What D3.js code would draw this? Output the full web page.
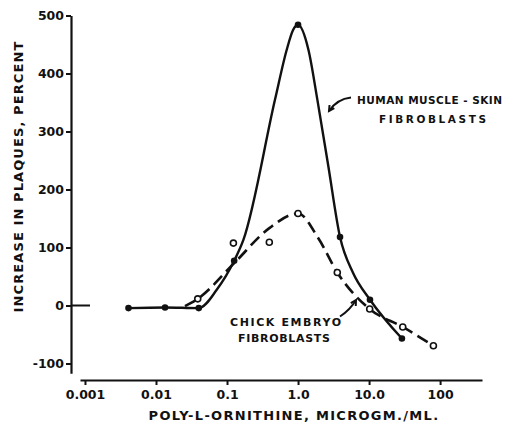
<!DOCTYPE html>
<html><head><meta charset="utf-8">
<script src="https://cdn.jsdelivr.net/npm/d3@7"></script>
<style>
html,body{margin:0;padding:0;background:#fff;}
text{font-family:"DejaVu Sans",sans-serif;font-weight:bold;fill:#111;}
</style></head>
<body><svg id="c" width="507" height="430"></svg>
<script>
// ---- data ----
const humanConc = [0.0041, 0.0134, 0.040, 0.126, 1.0, 3.9, 10.3, 29];
const humanPct  = [-4.5, -3.5, -4.5, 77, 484, 118, 10, -57];
// drawn solid curve
const humanCurveConc = [0.0041, 0.0134, 0.040, 0.0716, 0.126, 0.170, 0.474, 0.693, 0.851, 1.0, 1.40, 1.87, 2.67, 3.9, 5.96, 10.3, 29];
const humanCurvePct  = [-4.5, -3.5, -4.5, 27, 77, 113, 355, 441, 475, 484, 441, 355, 240, 118, 56, 10, -57];
const chickConc = [0.0387, 0.123, 0.394, 1.0, 3.57, 10.2, 29.8, 80.5];
const chickPct  = [11.5, 107.6, 109, 158.6, 57, -6, -37, -69.5];
// drawn dashed curve
const chickCurveConc = [0.0256, 0.0387, 0.126, 0.39, 1.0, 1.93, 3.57, 10.2, 29.8, 80.5];
const chickCurvePct  = [-1, 11.5, 73, 133, 158.6, 116, 57, -6, -37, -69.5];
const xTicks = [0.001, 0.01, 0.1, 1, 10, 100];
const xTickLabels = ["0.001", "0.01", "0.1", "1.0", "10.0", "100"];
const yTicks = [-100, 0, 100, 200, 300, 400, 500];
const yTickLabels = ["-100", "0", "100", "200", "300", "400", "500"];

const svg = d3.select("#c");
const x = d3.scaleLog().domain([Math.pow(10,-3.07), Math.pow(10,2.59)]).range([80, 482]);
const y = d3.scaleLinear().domain([-100, 500]).range([363.5, 15.5]);
const ink = "#111";

// x axis
const xAxisG = svg.append("g").attr("transform","translate(0,380)")
  .call(d3.axisBottom(x).tickValues(xTicks).tickFormat((d,i)=>xTickLabels[i]).tickSize(5).tickSizeOuter(0));
xAxisG.select(".domain").attr("stroke",ink).attr("stroke-width",2);
xAxisG.selectAll(".tick line").attr("stroke",ink).attr("stroke-width",2);
xAxisG.selectAll(".tick text").attr("dy","0.71em").attr("y",10).style("font-size","12.5px")
  .style("font-family","DejaVu Sans").style("font-weight","bold").attr("fill",ink);

// y axis
const yAx = y.copy().domain([-117, 500]).range([y(-117), y(500)]);
const yAxisG = svg.append("g").attr("transform","translate(71,0)")
  .call(d3.axisLeft(yAx).tickValues(yTicks).tickFormat((d,i)=>yTickLabels[i]).tickSize(5).tickSizeOuter(0));
yAxisG.select(".domain").attr("stroke",ink).attr("stroke-width",2.2);
yAxisG.selectAll(".tick line").attr("stroke",ink).attr("stroke-width",2);
yAxisG.selectAll(".tick text").attr("x",-7).style("font-size","12.5px")
  .style("font-family","DejaVu Sans").style("font-weight","bold").attr("fill",ink);

// short dash at zero
svg.append("line").attr("x1",71).attr("x2",90).attr("y1",y(0)).attr("y2",y(0))
  .attr("stroke",ink).attr("stroke-width",2);

// axis titles
svg.append("text").attr("x",294).attr("y",420).attr("text-anchor","middle")
  .style("font-size","13px").style("letter-spacing","1.3px").text("POLY-L-ORNITHINE,  MICROGM./ML.");
svg.append("text").attr("transform","translate(22.5,176.5) rotate(-90)").attr("text-anchor","middle")
  .style("font-size","13px").style("letter-spacing","1.1px").text("INCREASE  IN  PLAQUES,  PERCENT");

// lines
const pairs = (a,b)=>a.map((c,i)=>[c, b[i]]);
const human = pairs(humanConc, humanPct);
const humanCurve = pairs(humanCurveConc, humanCurvePct);
const chick = pairs(chickConc, chickPct);
const chickCurve = pairs(chickCurveConc, chickCurvePct);
const line = d3.line().x(d=>x(d[0])).y(d=>y(d[1])).curve(d3.curveMonotoneX);

svg.append("path").attr("d", line(humanCurve)).attr("fill","none").attr("stroke",ink).attr("stroke-width",2.4);
svg.append("path").attr("d", line(chickCurve)).attr("fill","none").attr("stroke",ink)
  .attr("stroke-width",2.6).attr("stroke-dasharray","12,6");

svg.selectAll("circle.h").data(human).enter().append("circle").attr("class","h")
  .attr("cx",d=>x(d[0])).attr("cy",d=>y(d[1])).attr("r",3.3).attr("fill",ink);
svg.selectAll("circle.c").data(chick).enter().append("circle").attr("class","c")
  .attr("cx",d=>x(d[0])).attr("cy",d=>y(d[1])).attr("r",3).attr("fill","#fff")
  .attr("stroke",ink).attr("stroke-width",1.6);

// annotations
function label(txt, x0, yb, w, fs){
  svg.append("text").attr("x",x0).attr("y",yb).style("font-size",fs+"px")
    .attr("textLength",w).attr("lengthAdjust","spacing").text(txt);
}
label("HUMAN MUSCLE - SKIN", 357, 104, 145, 10.5);
label("FIBROBLASTS", 379, 123, 107, 10.5);
label("CHICK  EMBRYO", 230, 325.5, 111, 11);
label("FIBROBLASTS", 238, 341.5, 92, 11);

// arrows
function arrow(p0, pc, p1){
  svg.append("path").attr("d",`M${p0[0]},${p0[1]} Q${pc[0]},${pc[1]} ${p1[0]},${p1[1]}`)
    .attr("fill","none").attr("stroke",ink).attr("stroke-width",2);
  const ang = Math.atan2(p1[1]-pc[1], p1[0]-pc[0]);
  const L=6, a=0.5;
  const pA=[p1[0]-L*Math.cos(ang-a), p1[1]-L*Math.sin(ang-a)];
  const pB=[p1[0]-L*Math.cos(ang+a), p1[1]-L*Math.sin(ang+a)];
  svg.append("path").attr("d",`M${pA[0]},${pA[1]} L${p1[0]},${p1[1]} L${pB[0]},${pB[1]}`)
    .attr("fill","none").attr("stroke",ink).attr("stroke-width",2);
}
arrow([351,97.5],[337,99],[329,111]);
arrow([340,316.5],[350,310],[356,300]);
</script></body></html>
